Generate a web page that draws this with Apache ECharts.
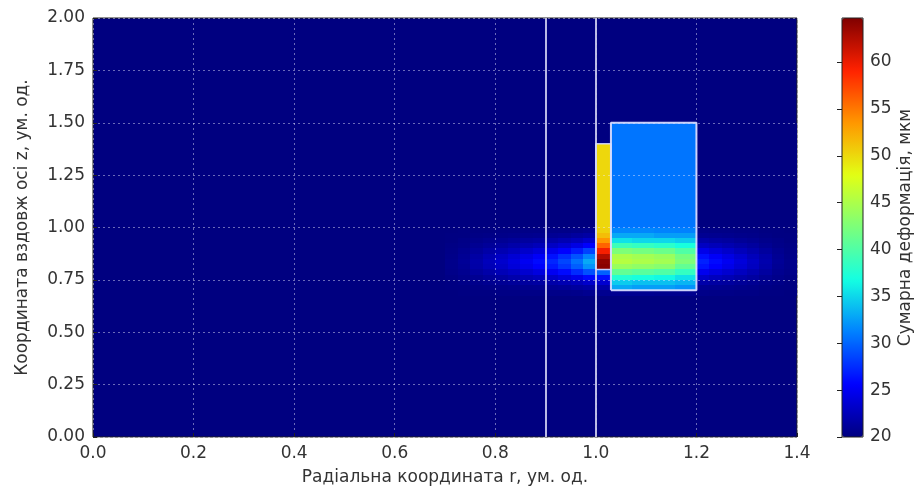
<!DOCTYPE html>
<html>
<head>
<meta charset="utf-8">
<script src="https://cdn.jsdelivr.net/npm/echarts@6/dist/echarts.min.js"></script>
<style>
html,body{margin:0;padding:0;background:#fff}
#chart{width:923px;height:493px}
</style>
</head>
<body>
<div id="chart"></div>
<script>
// межі комірок по r (стовпці) і по z (рядки), ум. од.
var rEdges = [0.70,0.725,0.75,0.775,0.80,0.825,0.85,0.875,0.90,0.925,0.95,0.975,1.00,
              1.03,1.0725,1.115,1.1575,1.20,1.225,1.25,1.275,1.30,1.325,1.35,1.375,1.40];
var zEdges = [0.675,0.70,0.725,0.75,0.775,0.80,0.825,0.85,0.875,0.90,0.925,0.95,0.975,1.00,1.40,1.50];
// сумарна деформація, мкм (рядки знизу вгору)
var strain = [
  [20.0,20.1,20.1,20.1,20.2,20.2,20.3,20.3,20.4,20.4,20.5,20.7, 20.7, 20.7,20.7,20.6,20.6, 20.4,20.3,20.3,20.2,20.2,20.1,20.1,20.0],
  [20.1,20.1,20.2,20.3,20.4,20.5,20.6,20.7,20.9,21.0,21.3,21.6, 21.7, 33.0,32.5,32.5,32.0, 20.8,20.7,20.6,20.5,20.4,20.2,20.1,20.1],
  [20.1,20.3,20.5,20.7,20.9,21.1,21.3,21.5,21.8,22.2,22.6,23.3, 23.5, 34.5,34.0,34.0,33.5, 21.8,21.5,21.3,21.0,20.8,20.5,20.3,20.1],
  [20.2,20.5,20.8,21.2,21.5,21.9,22.3,22.7,23.2,23.9,24.7,25.9, 26.3, 37.5,37.0,36.5,35.5, 23.2,22.7,22.3,21.8,21.4,20.9,20.5,20.2],
  [20.4,20.7,21.3,21.8,22.4,22.9,23.5,24.2,25.0,26.0,27.4,29.1, 29.8, 41.0,40.5,40.0,38.5, 24.9,24.2,23.5,22.8,22.1,21.4,20.7,20.4],
  [20.5,20.9,21.7,22.4,23.1,23.9,24.6,25.5,26.6,27.9,29.7,32.0, 64.3, 44.0,43.5,43.0,41.0, 26.4,25.5,24.6,23.7,22.8,21.8,20.9,20.5],
  [20.5,21.0,21.8,22.6,23.4,24.2,25.0,26.0,27.2,28.6,30.5,33.0, 64.0, 45.5,45.0,44.5,42.5, 27.0,26.0,25.0,24.0,23.0,22.0,21.0,20.5],
  [20.4,20.9,21.6,22.3,23.0,23.7,24.4,25.3,26.3,27.6,29.2,31.4, 62.5, 45.0,44.5,44.0,42.0, 26.2,25.3,24.4,23.5,22.6,21.8,20.9,20.4],
  [20.3,20.7,21.2,21.7,22.2,22.7,23.3,23.9,24.7,25.6,26.8,28.5, 59.5, 42.5,42.0,41.5,40.0, 24.6,23.9,23.3,22.6,22.0,21.3,20.7,20.3],
  [20.2,20.4,20.8,21.1,21.4,21.8,22.1,22.5,23.0,23.6,24.4,25.5, 56.0, 39.0,38.5,38.0,37.0, 22.9,22.5,22.1,21.7,21.3,20.8,20.4,20.2],
  [20.1,20.3,20.5,20.7,20.9,21.1,21.3,21.5,21.8,22.2,22.6,23.3, 53.5, 35.5,35.0,35.0,34.5, 21.8,21.5,21.3,21.0,20.8,20.5,20.3,20.1],
  [20.1,20.1,20.2,20.3,20.4,20.5,20.6,20.7,20.9,21.0,21.3,21.6, 51.5, 33.0,33.0,32.5,32.5, 20.8,20.7,20.6,20.5,20.4,20.2,20.1,20.1],
  [20.0,20.1,20.1,20.1,20.2,20.2,20.3,20.3,20.4,20.4,20.5,20.7, 50.4, 31.5,31.5,31.3,31.2, 20.4,20.3,20.3,20.2,20.2,20.1,20.1,20.0],
  [20,20,20,20,20,20,20,20,20,20,20,20, 50.1, 30.7,30.7,30.7,30.7, 20,20,20,20,20,20,20,20],
  [20,20,20,20,20,20,20,20,20,20,20,20, 20.0, 30.7,30.7,30.7,30.7, 20,20,20,20,20,20,20,20]
];
var wallR = [0.9, 1.0];
var stripR = [1.0, 1.03], stripZ = [0.8, 1.4];
var coilR = [1.03, 1.2], coilZ = [0.7, 1.5];
var cbTicks = [20, 25, 30, 35, 40, 45, 50, 55, 60];
var strainMin = 20, strainMax = 64.7;

var jet = ['#000080','#0000ff','#0080ff','#14ffe2','#7bff7b','#e2ff14','#ff9700','#ff2100','#800000'];
var txt = '#333333';
var font = 'DejaVu Sans';

var cells = [];
for (var i = 0; i < strain.length; i++) {
    for (var j = 0; j < strain[i].length; j++) {
        cells.push([rEdges[j], rEdges[j + 1], zEdges[i], zEdges[i + 1], strain[i][j]]);
    }
}
function box(r, z) {
    return [[r[0], z[0]], [r[1], z[0]], [r[1], z[1]], [r[0], z[1]], [r[0], z[0]]];
}

var chart = echarts.init(document.getElementById('chart'));
var option = {
    animation: false,
    textStyle: {fontFamily: font},
    grid: [
        {left: 93, right: 126, top: 18, bottom: 56, show: true, backgroundColor: jet[0], borderColor: '#222', borderWidth: 1},
        {left: 842, width: 21, top: 18, height: 419, show: true, backgroundColor: 'transparent', borderColor: '#222', borderWidth: 1, z: 10}
    ],
    xAxis: [
        {
            type: 'value', min: 0, max: 1.4, interval: 0.2, z: 3,
            name: 'Радіальна координата r, ум. од.', nameLocation: 'middle', nameGap: 32,
            nameTextStyle: {fontSize: 17, color: txt},
            axisLine: {show: false},
            axisTick: {show: true, inside: true, length: 4, lineStyle: {color: '#222'}},
            axisLabel: {fontSize: 17, color: txt, margin: 8, formatter: function (v) { return v.toFixed(1); }},
            splitLine: {show: true, lineStyle: {color: 'rgba(235,235,255,0.45)', width: 1, type: [2, 3]}}
        },
        {gridIndex: 1, type: 'value', show: false, min: 0, max: 1}
    ],
    yAxis: [
        {
            type: 'value', min: 0, max: 2, interval: 0.25, z: 3,
            name: 'Координата вздовж осі z, ум. од.', nameLocation: 'middle', nameGap: 62, nameRotate: 90,
            nameTextStyle: {fontSize: 17, color: txt},
            axisLine: {show: false},
            axisTick: {show: true, inside: true, length: 4, lineStyle: {color: '#222'}},
            axisLabel: {fontSize: 17, color: txt, margin: 8, formatter: function (v) { return v.toFixed(2); }},
            splitLine: {show: true, lineStyle: {color: 'rgba(235,235,255,0.45)', width: 1, type: [2, 3]}}
        },
        {
            gridIndex: 1, type: 'value', position: 'right', min: strainMin, max: strainMax,
            name: 'Сумарна деформація, мкм', nameLocation: 'middle', nameGap: 34, nameRotate: 90,
            nameTextStyle: {fontSize: 17, color: txt},
            axisLine: {show: false},
            axisTick: {show: true, inside: true, length: 5, customValues: cbTicks, lineStyle: {color: '#222'}},
            axisLabel: {fontSize: 17, color: txt, margin: 7, customValues: cbTicks},
            splitLine: {show: false}
        }
    ],
    visualMap: {
        type: 'continuous', min: strainMin, max: strainMax, seriesIndex: 0, dimension: 4,
        left: 842, top: 18, itemWidth: 21, itemHeight: 419, padding: 0,
        calculable: false, showLabel: false, text: null, hoverLink: false,
        inRange: {color: jet}
    },
    series: [
        {
            type: 'custom',
            data: cells,
            encode: {x: [0, 1], y: [2, 3]},
            silent: true,
            renderItem: function (params, api) {
                var p0 = api.coord([api.value(0), api.value(2)]);
                var p1 = api.coord([api.value(1), api.value(3)]);
                var x0 = Math.round(p0[0]), x1 = Math.round(p1[0]);
                var y0 = Math.round(p1[1]), y1 = Math.round(p0[1]);
                return {
                    type: 'rect',
                    shape: {x: x0, y: y0, width: x1 - x0, height: y1 - y0},
                    style: {fill: api.visual('color')}
                };
            }
        },
        {
            type: 'line', data: box(coilR, coilZ), symbol: 'none', silent: true, z: 5,
            lineStyle: {color: 'rgba(215,220,255,0.95)', width: 2}
        },
        {
            type: 'line', data: box(stripR, stripZ), symbol: 'none', silent: true, z: 5,
            lineStyle: {color: 'rgba(215,220,255,0.9)', width: 1.5}
        },
        {
            type: 'line', data: [], silent: true, z: 5,
            markLine: {
                silent: true, symbol: 'none', label: {show: false},
                lineStyle: {color: 'rgba(205,205,240,0.9)', width: 2, type: 'solid'},
                data: wallR.map(function (r) { return {xAxis: r}; })
            }
        }
    ]
};
chart.setOption(option);
</script>
</body>
</html>
